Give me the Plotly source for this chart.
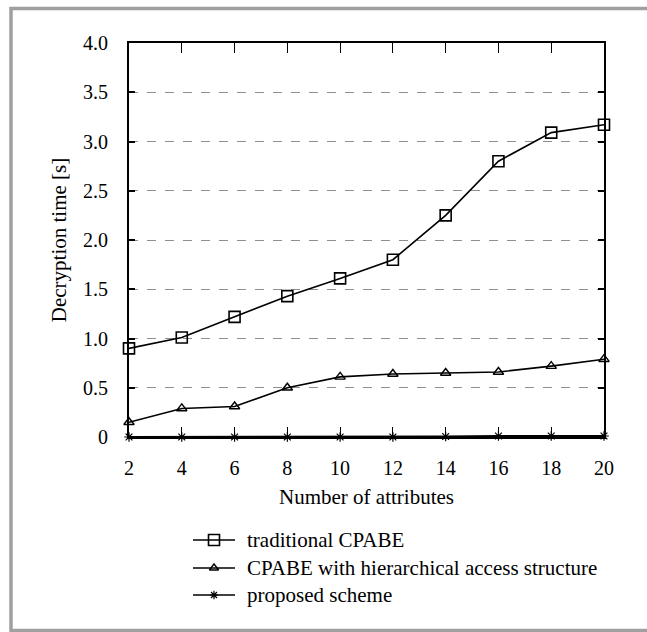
import plotly.graph_objects as go

attributes = [2, 4, 6, 8, 10, 12, 14, 16, 18, 20]
traditional_cpabe = [0.90, 1.01, 1.22, 1.43, 1.61, 1.80, 2.25, 2.80, 3.09, 3.17]
hierarchical_cpabe = [0.15, 0.29, 0.31, 0.50, 0.61, 0.64, 0.65, 0.66, 0.72, 0.79]
proposed_scheme = [0.0, 0.0, 0.0, 0.0, 0.0, 0.0, 0.005, 0.01, 0.01, 0.01]
y_ticks = [0, 0.5, 1.0, 1.5, 2.0, 2.5, 3.0, 3.5, 4.0]
y_tick_labels = ["0", "0.5", "1.0", "1.5", "2.0", "2.5", "3.0", "3.5", "4.0"]
series_names = ["traditional CPABE", "CPABE with hierarchical access structure", "proposed scheme"]

FONT = "Liberation Serif"
W, H = 647, 632
PL, PR, PT, PB = 129, 604, 43, 437   # plot area in pixels

def fx(px):
    return px / W

def fy(py):
    return 1 - py / H

styles = [
    dict(symbol="square-open", size=11, lw=1.6, msize_leg=11),
    dict(symbol="triangle-up-open", size=9, lw=1.4, msize_leg=8),
    dict(symbol="asterisk-open", size=8, lw=1.2, msize_leg=7),
]
line_widths = [1.6, 1.6, 2.2]
data = [traditional_cpabe, hierarchical_cpabe, proposed_scheme]

fig = go.Figure()
for name, ys, st, lw in zip(series_names, data, styles, line_widths):
    fig.add_trace(go.Scatter(
        x=attributes, y=ys, name=name, showlegend=False,
        mode="lines+markers", line=dict(color="black", width=lw),
        marker=dict(symbol=st["symbol"], size=st["size"], color="black",
                    line=dict(width=st["lw"], color="black")),
        cliponaxis=False))

# frame
fig.add_shape(type="rect", xref="paper", yref="paper",
              x0=fx(11), x1=fx(665), y0=fy(630.5), y1=fy(8.5),
              line=dict(color="#a0a0a0", width=3.5), fillcolor="rgba(0,0,0,0)",
              layer="below")

# manual legend (layout positions in pixels, on a full-page helper subplot)
legend_rows = [540, 568, 595]
LEG_X0, LEG_X1, LEG_TX = 193, 235, 245
for ry, name, st in zip(legend_rows, series_names, styles):
    fig.add_shape(type="line", xref="paper", yref="paper",
                  x0=fx(LEG_X0), x1=fx(LEG_X1), y0=fy(ry), y1=fy(ry),
                  line=dict(color="black", width=1.4), layer="below")
    fig.add_annotation(xref="paper", yref="paper", x=fx(LEG_TX), y=fy(ry),
                       xanchor="left", yanchor="middle", text=name, showarrow=False,
                       font=dict(family=FONT, size=21, color="black"))
    fig.add_trace(go.Scatter(
        x=[(LEG_X0 + LEG_X1) / 2], y=[ry], xaxis="x2", yaxis="y2",
        mode="markers", showlegend=False, hoverinfo="skip", cliponaxis=False,
        marker=dict(symbol=st["symbol"], size=st["msize_leg"], color="black",
                    line=dict(width=st["lw"], color="black"))))

fig.update_layout(
    width=W, height=H,
    margin=dict(l=0, r=0, t=0, b=0, pad=0),
    paper_bgcolor="white", plot_bgcolor="rgba(0,0,0,0)",
    font=dict(family=FONT, size=20, color="black"),
    showlegend=False,
    xaxis=dict(domain=[fx(PL), fx(PR)], range=[2, 20], tickvals=attributes,
               ticks="inside", ticklen=10,
               tickwidth=1.2, tickcolor="black", showline=True, linecolor="black",
               linewidth=2, mirror="ticks", showgrid=False, zeroline=False,
               automargin=False,
               ticklabelstandoff=12, tickfont=dict(family=FONT, size=20),
               title=dict(text="Number of attributes", standoff=11,
                          font=dict(family=FONT, size=21))),
    yaxis=dict(domain=[fy(PB), fy(PT)], range=[0, 4], tickvals=y_ticks,
               ticktext=y_tick_labels,
               ticks="inside", ticklen=6, tickwidth=1.5, tickcolor="black",
               showline=True, linecolor="black", linewidth=2, mirror="ticks",
               showgrid=True, gridcolor="#8f8f8f", griddash="dash", gridwidth=1,
               zeroline=False, automargin=False,
               ticklabelstandoff=15, tickfont=dict(family=FONT, size=20),
               title=dict(text="Decryption time [s]", standoff=11,
                          font=dict(family=FONT, size=21))),
    xaxis2=dict(domain=[0, 1], anchor="y2", range=[0, W], visible=False,
                fixedrange=True, showgrid=False, zeroline=False),
    yaxis2=dict(domain=[0, 1], anchor="x2", range=[H, 0], visible=False,
                fixedrange=True, showgrid=False, zeroline=False),
)

fig.write_html("out.html")
